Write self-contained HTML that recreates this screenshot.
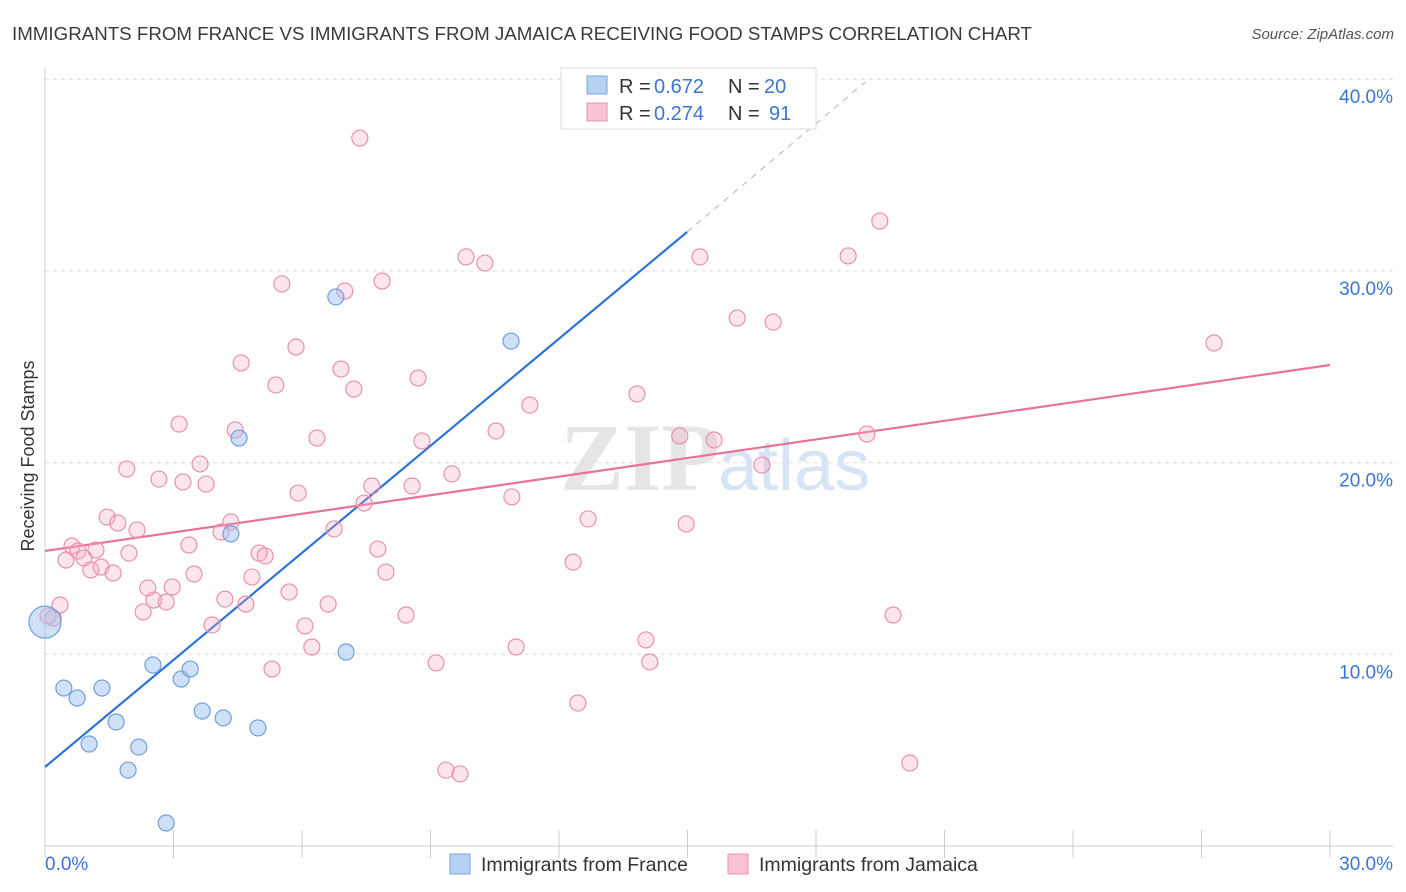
<!DOCTYPE html>
<html><head><meta charset="utf-8"><style>
body{margin:0;background:#fff;font-family:"Liberation Sans",sans-serif;}
#c{position:relative;width:1406px;height:892px;overflow:hidden}
</style></head><body>
<div id="c">
<svg id="s" width="1406" height="892" xmlns="http://www.w3.org/2000/svg">
<text x="12" y="40" font-size="18" fill="#3a3a3a" textLength="1020" lengthAdjust="spacingAndGlyphs">IMMIGRANTS FROM FRANCE VS IMMIGRANTS FROM JAMAICA RECEIVING FOOD STAMPS CORRELATION CHART</text>
<text x="1394" y="39" font-size="15" fill="#555" font-style="italic" text-anchor="end">Source: ZipAtlas.com</text>
<text x="720" y="490" font-size="96" font-weight="bold" fill="#e6e6e6" text-anchor="end" font-family="Liberation Serif,serif">ZIP</text>
<text x="718" y="490" font-size="72" fill="#d6e4f5">atlas</text>
<text x="34" y="456" font-size="18" fill="#333" text-anchor="middle" transform="rotate(-90 34 456)">Receiving Food Stamps</text>
<g id="grid"></g><g id="axes"></g><g id="lines"></g><g id="pts"></g>
<g>
<rect x="561" y="68" width="255" height="61" fill="#fff" stroke="#ddd"/>
<rect x="587" y="76" width="20" height="18" fill="#b7d1f3" stroke="#7aa6e3"/>
<rect x="587" y="103" width="20" height="18" fill="#f8c3d3" stroke="#ea93b0"/>
<text x="619" y="93" font-size="20" fill="#333">R =</text>
<text x="654" y="93" font-size="20" fill="#3a76d0">0.672</text>
<text x="728" y="93" font-size="20" fill="#333">N =</text>
<text x="764" y="93" font-size="20" fill="#3a76d0">20</text>
<text x="619" y="120" font-size="20" fill="#333">R =</text>
<text x="654" y="120" font-size="20" fill="#3a76d0">0.274</text>
<text x="728" y="120" font-size="20" fill="#333">N =</text>
<text x="769" y="120" font-size="20" fill="#3a76d0">91</text>
</g>
<g>
<rect x="450" y="854" width="20" height="20" fill="#b7d1f3" stroke="#7aa6e3"/>
<text x="481" y="871" font-size="19.5" fill="#333">Immigrants from France</text>
<rect x="728" y="854" width="20" height="20" fill="#f8c3d3" stroke="#ea93b0"/>
<text x="759" y="871" font-size="19.5" fill="#333">Immigrants from Jamaica</text>
</g>
</svg></div>
<script>
const yTicks=[10,20,30,40];
const xTickLabels=["0.0%","30.0%"];
const franceX=[0,0.44,0.75,1.33,1.03,1.66,1.94,2.19,2.52,2.83,3.18,3.39,3.67,4.16,4.34,4.53,4.97,6.79,7.03,10.88];
const franceY=[11.68,8.24,7.72,8.24,5.32,6.47,3.96,5.16,9.44,1.20,8.71,9.23,7.04,6.68,16.28,21.28,6.16,28.64,10.12,26.34];
const jamaicaX=[7.35,9.83,10.27,15.29,18.75,19.49,5.53,7.87,7.00,16.16,17.00,27.29,5.86,4.58,6.91,5.39,7.21,8.71,13.82,11.32,3.13,4.44,6.35,8.80,10.53,14.82,15.62,19.19,1.91,3.62,2.66,3.22,3.76,9.50,7.63,8.57,5.91,10.90,7.45,16.74,1.45,1.70,2.15,4.34,4.11,6.75,12.68,14.97,0.63,0.77,1.19,1.96,3.36,5.00,5.14,7.77,0.49,0.91,1.07,1.31,1.59,3.48,4.83,7.96,12.33,2.40,2.97,2.54,2.83,2.29,4.20,4.69,5.70,6.61,0.35,0.19,0.07,3.90,6.07,8.43,6.23,11.00,14.03,19.80,5.30,9.13,14.12,12.44,9.36,9.69,20.19];
const jamaicaY=[36.93,30.73,30.41,30.73,30.78,32.60,29.32,29.47,28.95,27.54,27.33,26.24,26.03,25.20,24.88,24.05,23.84,24.41,23.58,23.00,22.01,21.70,21.28,21.13,21.65,21.39,21.18,21.49,19.67,19.93,19.14,18.99,18.88,19.41,18.78,18.78,18.41,18.21,17.89,19.87,17.16,16.85,16.48,16.90,16.38,16.54,17.06,16.80,15.65,15.39,15.44,15.28,15.70,15.28,15.13,15.49,14.92,15.02,14.40,14.55,14.24,14.19,14.03,14.29,14.81,13.46,13.51,12.83,12.73,12.21,12.88,12.62,13.25,12.62,12.57,11.89,12.00,11.53,11.48,12.05,10.38,10.38,10.75,12.05,9.23,9.55,9.60,7.46,3.96,3.76,4.33];
const franceLine=[[0,4.12],[14.99,32.03]];
const franceDash=[[14.99,32.03],[19.15,39.85]];
const jamaicaLine=[[0,15.39],[30,25.09]];
const NS="http://www.w3.org/2000/svg";
const X=v=>45+v*1285/30, Y=v=>846-v*19.17;
function mk(t,a,p){const e=document.createElementNS(NS,t);for(const k in a)e.setAttribute(k,a[k]);document.getElementById(p).appendChild(e);return e;}
yTicks.forEach(t=>{
 const l=mk('line',{x1:45,x2:1393,y1:Y(t),y2:Y(t),stroke:'#ddd','stroke-dasharray':'4,4'},'grid');
 
 
 const tx=mk('text',{x:1393,y:Y(t)+24,'font-size':19,fill:'#3a76d0','text-anchor':'end'},'axes');
 tx.textContent=t.toFixed(1)+'%';
 
 
});
let ax=mk('line',{x1:45,x2:45,y1:68,y2:846,stroke:'#ccc'},'axes');


ax=mk('line',{x1:45,x2:1393,y1:846,y2:846,stroke:'#ccc'},'axes');


for(let i=0;i<=10;i++){const tk=mk('line',{x1:X(i*3),x2:X(i*3),y1:830,y2:858,stroke:'#ccc'},'axes');
 
 }
let t1=mk('text',{x:45,y:870,'font-size':19,fill:'#3a76d0'},'axes');t1.textContent=xTickLabels[0];


t1=mk('text',{x:1393,y:870,'font-size':19,fill:'#3a76d0','text-anchor':'end'},'axes');t1.textContent=xTickLabels[1];


function ln(d,st,extra,name){const e=mk('line',Object.assign({x1:X(d[0][0]),y1:Y(d[0][1]),x2:X(d[1][0]),y2:Y(d[1][1]),stroke:st,'stroke-width':2.2},extra),'lines');
 
 }
ln(franceLine,'#2d74d6',{},'france-trendline');
ln(franceDash,'#9bb8de',{'stroke-dasharray':'6,6','stroke-width':1},'france-trendline-extension');
ln(jamaicaLine,'#e8729a',{},'jamaica-trendline');
jamaicaX.forEach((v,i)=>{const c=mk('circle',{cx:X(v),cy:Y(jamaicaY[i]),r:8,fill:'rgba(245,170,195,0.3)',stroke:'#e990ae','stroke-width':1.2},'pts');
 
 });
franceX.forEach((v,i)=>{const c=mk('circle',{cx:X(v),cy:Y(franceY[i]),r:i==0?16:8,fill:'rgba(160,195,240,0.5)',stroke:'#6f9fe0','stroke-width':1.2},'pts');
 
 });
</script>
</body></html>
